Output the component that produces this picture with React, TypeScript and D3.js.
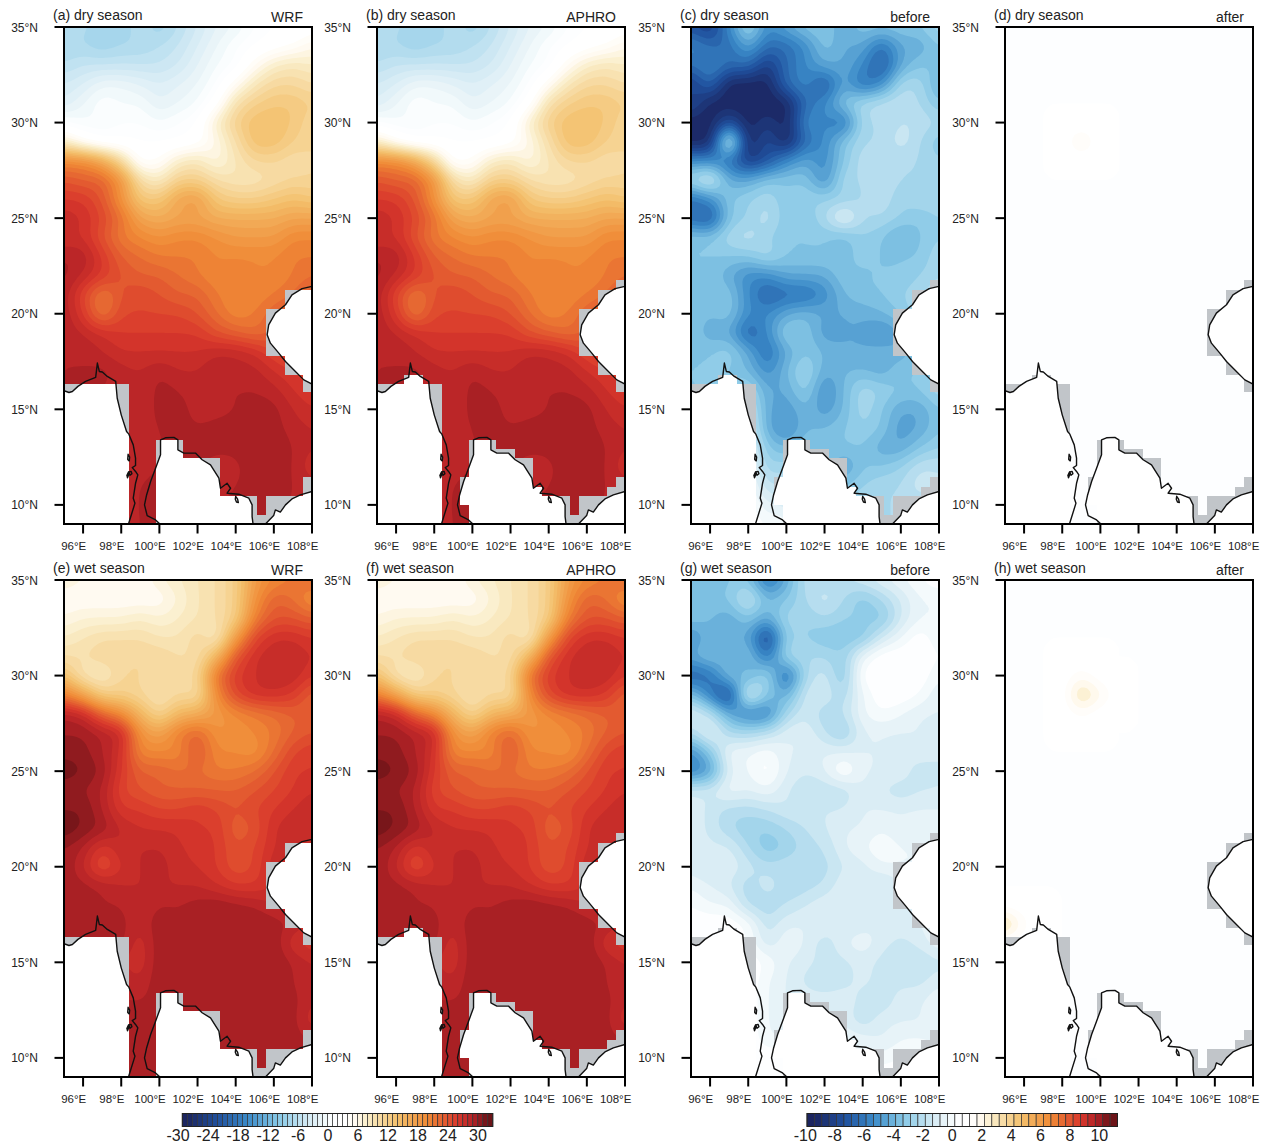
import React, { useMemo } from "react";
import * as d3 from "d3";

// grid nodes: 1 degree, rows run north to south
const lons = d3.range(95, 109);
const lats = d3.range(35, 8, -1);

const dryWrf = [
  [-8,-9,-9,-10,-8,-10,-8,-6,-4,-3,-1,0,0,1],
  [-9,-9,-10,-9,-9,-8,-7,-5,-3,-1,0,1,2,4],
  [-8,-7,-7,-7,-7,-7,-6,-4,-2,-1,3,6,7,6],
  [-6,-5,-3,-3,-4,-5,-4,-3,-1,3,7,9,9,8],
  [-5,-3,-1,-2,-2,-4,-3,-2,1,8,10,11,11,10],
  [-1,-2,-2,-1,-1,-2,-1,0,6,10,12,12,11,9],
  [6,2,0,0,0,0,0,1,4,8,12,12,10,9],
  [18,18,15,9,1,2,6,7,4,7,9,9,8,9],
  [22,21,21,17,8,6,10,10,8,7,7,8,9,9],
  [24,24,22,17,11,11,15,16,11,10,10,11,12,11],
  [26,25,23,20,15,14,15,15,14,14,14,14,15,15],
  [25,25,22,19,18,17,18,18,17,16,16,16,18,18],
  [27,27,24,21,20,19,19,19,18,18,18,18,19,19],
  [27.5,26,24,22,21,21,20,19,18,19,18,18,19,20],
  [27,23,19,22,23,22,21,21,19,18,18,19,20,22],
  [27,24,19,23,23,23,23,22,20,18,19,21,22,24],
  [27,26,25,24,24,24,24,24,22,21,20,21,23,24],
  [27,27,26,25,25,25,25,25,26,26,25,23,22,23],
  [27,27,27.5,26.5,26,27,26,26,27,26.5,26.5,25,24,23],
  [27,27,27,26.5,26,27.5,27,26.5,27,27,27,26.5,25,24],
  [27,27,27,26,26,27.5,27.5,26.5,26.5,27,27.5,27.5,26,25],
  [27,27,27,26.5,26.5,27,27.5,27,27.5,27.5,27.5,27.5,26.5,26],
  [27,27,27,26.5,26.5,27,27,28,27.5,27.5,28,28,27,26],
  [27,27,27,26.5,26.5,27,27,27,26,26.5,28,28,27,25],
  [27,27,27,26.5,27,27.5,27,27,27,27,27.5,27.5,27,26.5],
  [27,27,27,26.5,27,28,27,27,27,27,27,27,27,26.5],
  [27,27,27,26.5,27,27.5,27,27,27,27,27,27,27,26.5],
];

const wetWrf = [
  [5,4,4,3,3,5,6,7,8,10,16,18,19,21],
  [3,3,3,3,3,3,5,7,8,10,17,21,20,17],
  [4,5,5,5,6,5,6,7,8,10,19,22,22,21],
  [6,7,8,8,8,7,7,9,6,16,23,25,25,24],
  [8,8,9,9,9,9,8,8,13,22,25,26,26,25],
  [12,7,6,9,9,9,8,9,20,24,25,26,26,24],
  [19,15,10,10,9,7,9,8,18,23,25,25,24,21],
  [27,26,21,18,13,9,13,14,16,18,19,20,21,21],
  [28,28,27,26,17,15,19,21,17,17,18,19,21,22],
  [28.5,28.5,27,25,18,18,18,22,18,18,17,20,23,24],
  [30,29,28,24,21,21,20,20,19,19,20,22,24,24],
  [28,28,27,23,22,21,21,21,21,21,22,23,24,25],
  [29,29,27,24,24,23,23,24,23,22,23,24,25,26],
  [30,29,28,26,25,25,25,24,24,21,22,25,26,26],
  [28,27,24,26,26,26,25,25,24,22,23,25,26,26],
  [28,26,22,25,26,27,25,25,24,22,23,26,26,26],
  [27.5,27.5,27,26,26,26,26,26,25,24,24,25,26,26],
  [27.5,27.5,27,27,26,27,27,27.5,28,27.5,27,26,26,26],
  [27.5,27.5,28,27.5,26,28,27,28,28,28,28,27.5,27,26],
  [27.5,27.5,27.5,27.5,25,28,27.5,28,28,28,28,28,25,24],
  [27.5,27.5,27.5,26,25,28,27.5,27.5,28,28,28,28,27,26],
  [27,27,27,27,26,28,28,27.5,28,28,28,28,27,26],
  [27,27,27,27,27,27.5,27.5,28,28,28,28,28,27.5,26],
  [27,27,27,27.5,27.5,27.5,27.5,27.5,27.5,27.5,28,28,27.5,25],
  [27,27,27,27.5,27.5,28,27.5,27.5,27.5,27.5,28,28,27.5,27],
  [27,27,27,27.5,27.5,28,27.5,27.5,27.5,27.5,27.5,27.5,27.5,27],
  [27,27,27,27.5,27.5,28,27.5,27.5,27.5,27.5,27.5,27.5,27.5,27],
];

const dryBefore = [
  [-8,-9,-6,-3,-6,-5,-4,-4,-5,-4,-4,-4,-4,-3],
  [-6,-7,-7,-5,-7,-7,-6,-4,-5,-5,-7,-5,-5,-4],
  [-7,-6,-7,-7,-9,-7,-6,-5,-5,-6,-8,-5,-4,-4],
  [-9,-7,-10,-10,-10,-7,-6,-8,-5,-7,-6,-3,-3,-5],
  [-8,-10,-10,-10,-10,-10,-7,-6,-4,-3,-2.5,-2.5,-3,-4],
  [-10,-10,-8,-10,-9,-10,-6,-6,-7,-3,-3,-2.5,-2.5,-3],
  [-10,-10,-1,-10,-8,-10,-7,-6,-4,-3,-3,-2,-3,-4],
  [-6,-6,-7,-9,-8,-6,-5,-6,-4,-2.5,-3,-3,-3,-3.5],
  [-3,-1.5,-5,-5,-4,-4,-4,-6,-3,-3,-2.5,-3,-3,-3],
  [-7,-6,-4,-3.5,-3,-4,-3.5,-3.5,-3.5,-3,-2.5,-3.5,-3,-3],
  [-7,-8,-4,-3.5,-2.5,-4,-4,-3,-1,-3,-3,-3.5,-4,-3.5],
  [-4,-4,-3,-2.5,-3.5,-4,-4,-4,-4.5,-3.5,-4,-5,-4,-3.5],
  [-4,-4,-4,-4,-3,-4,-4,-4,-4,-4,-4,-4,-4,-3],
  [-4,-4,-5,-6,-6,-5,-5,-5,-4,-4,-4,-4,-3.5,-3],
  [-4,-4,-4,-6,-7.5,-7,-7,-6,-4.5,-4,-4,-3.5,-3,-2.5],
  [-4,-4.5,-4,-6,-6,-5,-4.5,-5,-5,-5,-4.5,-4,-3,-3],
  [-4,-5,-5,-7.5,-6,-3.5,-4,-5.5,-5,-5,-6,-5,-3,-3],
  [-4,-4,-3.5,-5,-7,-5,-4,-4.5,-5,-5,-4.5,-5,-4,-3],
  [-4,-4,-4,-4.5,-6,-4.5,-3,-5,-4.5,-4.5,-5,-4,-4,-3],
  [-4,-4,-4,-3,-5,-5,-3.5,-6,-4.5,-3,-3.5,-4,-4,-3],
  [-4,-4,-4,-2,-5,-5.5,-4.5,-5.5,-4.5,-3,-4,-5,-5,-4],
  [-4,-4,-4,-1.5,-5,-6,-4.5,-4.5,-4,-3.5,-4,-5.5,-5,-4],
  [-3,-3,-3,-1,-4,-4.5,-4,-4,-4,-4,-5,-5,-4,-3.5],
  [-1,-1,-1,-0.5,-3.5,-3,-4,-4,-5.5,-4,-4,-3.5,-2.5,-2.5],
  [-0.5,-0.5,-0.5,-0.5,-2.5,-2.5,-3.5,-4,-4,-3.5,-3,-3,-2,-2.5],
  [0,0,0,0,-1.5,-1.5,-3,-3.5,-3.5,-3,-3,-3,-3,-3],
  [0,0,0,0,-0.5,-0.5,-3,-3,-3,-3,-3,-3,-3,-3],
];

const wetBefore = [
  [-4,-4.5,-4,-4,-7,-5,-2.5,-3,-2.5,-2,-1.5,-1,-0.5,0],
  [-4,-4,-4,-2,-4.5,-4,-3,-2,-3,-4,-3,-2,-1,-1],
  [-4,-4.5,-5,-4,-5,-3,-3.5,-3,-3.5,-3.5,-4,-2,-1,-1],
  [-6,-4.5,-5,-5,-9,-3.5,-3.5,-4,-4,-4,-2,-1,0,-1],
  [-5,-4,-5,-4,-7,-3,-3,-3,-3.5,-1,0,0,0,-0.5],
  [-7.5,-7,-4,-5,-3,-7.5,-3,-2,-4,0,0,0,0,-1],
  [-4,-6.5,-9,-1,-4,-5,-2,-2,-3,-1,0,0,-0.5,-1.5],
  [-1.5,-2.5,-5,-6.5,-6.5,-3,-2,-3,-2.5,-1,-0.5,-1,-1.5,-1.5],
  [-3,-1,-3,-3,-2.5,-1.5,-1.5,-2.5,-3.5,-1.5,-1.5,-1.5,-1.5,-2],
  [-6,-4,-1,-1,-0.5,-1.5,-1.5,-1.5,-1.5,-1.5,-1.5,-2,-1.5,-2],
  [-6.5,-5.5,-1.5,-1,0,-1.5,-2,-1.5,0,-1.5,-1.5,-1.5,-2.5,-2],
  [-2,-2,-1,-1.5,-1,-2,-2.5,-2.5,-2.5,-1.5,-2,-2.5,-2,-2],
  [-1.5,-2.2,-2.8,-2.8,-2.5,-2,-2,-2,-2,-1.5,-1.5,-1.5,-1.5,-1.5],
  [-1.5,-2.2,-3,-3.5,-3.5,-3,-2.5,-2,-1.5,-1.5,-1,-1.5,-1,-1],
  [-1.8,-1.8,-1.8,-3,-4,-3.5,-2.8,-2.5,-1.5,-1,-0.5,-1,-1,-1],
  [-1.8,-2.2,-1.5,-2.2,-2.8,-2.5,-2.5,-2.8,-2,-1.8,-1,-1,-1,-1],
  [-1,-1.5,-2,-3,-2,-3,-2.8,-2.5,-1.5,-1.5,-2.5,-1.5,-1,-1],
  [-0.5,-1,-1,-2.8,-3,-2.5,-2,-1.5,-1.5,-1.5,-1.5,-1.5,-1.5,-1],
  [0,0,0,-0.5,-2.5,-1.5,-1.5,-1.5,-2,-1.8,-1.5,-1.8,-1.5,-1],
  [0,0,0,-0.5,-2,-1,-1.5,-2.5,-1.5,-1,-1.8,-2.2,-1.8,-1],
  [0,0,0,0,-0.5,-1.5,-1.8,-2.2,-2.2,-1.8,-2.2,-2.6,-2.6,-2.2],
  [0,0,0,0,-1,-1.5,-2.2,-2.6,-2.2,-1.8,-2.2,-2.2,-2.2,-1.6],
  [0,0,0,0,-1,-1.6,-1.6,-1.6,-1.6,-2.2,-2.6,-1.6,-1.6,-1],
  [0,0,0,0,-1,-1.6,-1.6,-1.6,-1.6,-2.6,-1.6,-1.6,-1.6,-1],
  [0,0,0,0,-1,-1,-1,-1,-1,-1.2,-1.6,-1,-1,-1.5],
  [0,0,0,0,0,0,0,-0.5,-0.8,-0.8,-0.8,-0.5,0,0],
  [0,0,0,0,0,0,0,0,0,0,0,0,0,0],
];

// "after" panels are zero except for a few faint spots: [lon, lat, value]
const dryAfterSpots = [[99, 29, 1.4]];
const wetAfterSpots = [[99, 29, 2.8], [100, 29, 1.2], [99, 30, 0.8], [99, 28, 0.6], [95, 17, 3], [96, 17, 0.6]];

const panelLetters = ["a", "b", "c", "d", "e", "f", "g", "h"];
const panelSeasons = ["dry", "dry", "dry", "dry", "wet", "wet", "wet", "wet"];
const panelSources = ["WRF", "APHRO", "before", "after", "WRF", "APHRO", "before", "after"];

const lonTicks = [96, 98, 100, 102, 104, 106, 108];
const latTicks = [35, 30, 25, 20, 15, 10];
const tempLabels = [-30, -24, -18, -12, -6, 0, 6, 12, 18, 24, 30];
const diffLabels = [-10, -8, -6, -4, -2, 0, 2, 4, 6, 8, 10];

const rampStops = [-1, -0.8, -0.6, -0.4, -0.2, -0.12, -0.05, 0, 0.05, 0.12, 0.2, 0.4, 0.6, 0.8, 0.9, 1];
const rampColors = ["#1c2560", "#1f4f9c", "#3a8ac8", "#86c8e6", "#d3eaf4", "#e8f4f8", "#fafdfe", "#ffffff", "#ffffff", "#fffaf0", "#faedc8", "#f3c06c", "#f08a36", "#d9382c", "#b52227", "#6c1418"];

const seaWest = [[95,15.97],[95.26,15.88],[95.44,15.93],[95.73,16.2],[96.13,16.46],[96.66,16.67],[96.75,17.42],[96.85,16.98],[97.01,16.95],[97.27,16.72],[97.71,16.46],[97.79,15.58],[98,14.71],[98.28,13.84],[98.4,13.7],[98.63,13.14],[98.75,12.44],[98.75,12.06],[98.58,11.95],[98.75,11.75],[98.87,11.57],[98.75,11.13],[98.63,10.35],[98.72,10.09],[98.38,9]];
const seaGulf = [[100.03,9],[99.8,9.21],[99.36,9.44],[99.22,10],[99.33,10.52],[99.54,11.22],[99.8,11.92],[100.06,12.62],[100.06,13.4],[100.32,13.51],[100.76,13.53],[100.97,13.4],[100.97,12.88],[101.28,12.71],[101.89,12.71],[102.24,12.36],[102.68,12.09],[103.12,11.4],[103.2,10.87],[103.55,11.13],[103.73,10.87],[103.55,10.61],[104.16,10.56],[104.69,10.35],[104.86,10],[104.86,9.39],[104.91,9]];
const seaSouth = [[105.56,9],[105.99,9.44],[106.08,9.74],[106.34,9.62],[106.61,10],[106.95,10.31],[107.39,10.52],[108,10.7]];
const seaTonkin = [[108,21.43],[107.48,21.31],[106.95,20.99],[106.61,20.47],[106.08,20.03],[105.73,19.42],[105.65,18.9],[105.82,18.46],[106.26,17.94],[106.61,17.5],[107.04,17.07],[107.57,16.54],[108,16.32]];
const islands = [
  [[98.36,12.65],[98.44,12.5],[98.42,12.3],[98.34,12.38]],
  [[98.3,11.55],[98.38,11.72],[98.4,11.6],[98.33,11.42]],
  [[98.4,11.72],[98.52,11.75],[98.56,11.63],[98.46,11.55]],
  [[104,10.45],[104.1,10.3],[104.14,10.12],[104.04,10.15],[103.98,10.3]],
];

const maskWrf = [[95,35],[108,35],[108,21.26],[106.57,21.26],[106.57,20.24],[105.61,20.24],[105.61,17.8],[106.57,17.8],[106.57,16.82],[107.53,16.82],[107.53,15.9],[108,15.9],[108,11.45],[107.53,11.45],[107.53,10.47],[105.61,10.47],[105.61,9.49],[105.12,9.49],[105.12,10.47],[103.2,10.47],[103.2,12.43],[101.25,12.43],[101.25,13.4],[99.83,13.4],[99.83,9],[98.4,9],[98.4,16.34],[95,16.34]];
const maskAphro = [[95,35],[108,35],[108,21.75],[107.53,21.75],[107.53,21.26],[106.57,21.26],[106.57,20.24],[105.61,20.24],[105.61,17.8],[106.57,17.8],[106.57,16.82],[107.53,16.82],[107.53,15.9],[108,15.9],[108,11.45],[107.53,11.45],[107.53,10.96],[107.04,10.96],[107.04,10.47],[105.61,10.47],[105.61,9.49],[105.12,9.49],[105.12,10.47],[103.66,10.47],[103.66,10.96],[103.17,10.96],[103.17,12.43],[102.21,12.43],[102.21,12.92],[101.25,12.92],[101.25,13.4],[99.83,13.4],[99.83,11.45],[99.33,11.45],[99.33,10],[99.83,10],[99.83,9],[98.4,9],[98.4,16.34],[97.41,16.34],[97.41,16.82],[96.41,16.82],[96.41,16.34],[95,16.34]];

const panelLeft = [64, 377, 691, 1005];
const panelTop = [27, 580];
const panelW = 248;
const panelH = 497;
const FONT = "'Liberation Sans', Arial, sans-serif";
const UP = 6; // cells per degree when contouring
const EPS = 1e-6; // keeps flat areas from sitting exactly on a contour level

const ramp = d3.scaleLinear<string>().domain(rampStops).range(rampColors).interpolate(d3.interpolateRgb).clamp(true);
const xScale = d3.scaleLinear().domain([95, 108]).range([0, panelW]);
const yScale = d3.scaleLinear().domain([35, 9]).range([0, panelH]);
const geoLine = d3.line().x((d: any) => xScale(d[0])).y((d: any) => yScale(d[1]));
// mask edges sit on whole pixels, an antialiased clip lets the stacked bands show through
const maskLine = d3.line().x((d: any) => Math.round(xScale(d[0]))).y((d: any) => Math.round(yScale(d[1])));

const spotGrid = (spots: number[][]) =>
  lats.map((lat) => lons.map((lon) => {
    const s = spots.find((p) => p[0] === lon && p[1] === lat);
    return s ? s[2] : 0;
  }));

// resample the 1 degree grid for contouring, then soften it a little
function resample(grid: number[][]) {
  const w = (lons.length - 1) * UP + 1;
  const h = (lats.length - 1) * UP + 1;
  const data = new Float64Array(w * h);
  for (let j = 0; j < h; j++) {
    const r = Math.min(Math.floor(j / UP), lats.length - 2);
    const fy = j / UP - r;
    for (let i = 0; i < w; i++) {
      const c = Math.min(Math.floor(i / UP), lons.length - 2);
      const fx = i / UP - c;
      data[j * w + i] =
        grid[r][c] * (1 - fx) * (1 - fy) + grid[r][c + 1] * fx * (1 - fy) +
        grid[r + 1][c] * (1 - fx) * fy + grid[r + 1][c + 1] * fx * fy;
    }
  }
  d3.blur2({ data, width: w, height: h }, 1.5);
  return { data, w, h };
}

function contourField(grid: number[][], levels: number[], step: number, span: number) {
  const { data, w, h } = resample(grid);
  const proj = d3.geoTransform({
    point(x: number, y: number) {
      (this as any).stream.point(xScale(95 + (x - 0.5) / UP), yScale(35 - (y - 0.5) / UP));
    },
  });
  const path = d3.geoPath(proj).digits(1);
  const low = d3.min(data as any) as number;
  const used = levels.filter((l) => l > low).map((l) => l + EPS);
  const gen = d3.contours().size([w, h]).thresholds(used);
  return {
    base: ramp((Math.floor(low / step) * step + step / 2) / span),
    items: gen(data as any).map((c: any) => ({
      d: path(c) as string,
      fill: ramp((c.value + step / 2) / span),
    })),
  };
}

const tempLevels = d3.range(-30, 31, 1);
const diffLevels = d3.range(-10, 10.5, 0.5);

function Colorbar({ left, labelZero, unit, levels, step, span, labels }: any) {
  const edges = [...levels, levels[levels.length - 1] + step];
  const band = d3.scaleBand<number>().domain(edges).range([left, left + 310.5]);
  const labelX = d3.scaleLinear().domain([0, 1]).range([labelZero, labelZero + unit]);
  return (
    <g>
      {edges.map((v: number) => (
        <rect key={v} x={band(v)} y={1113.5} width={band.bandwidth()} height={13}
          fill={ramp((v - step / 2) / span)} stroke="#333" strokeWidth={0.7} />
      ))}
      <rect x={left} y={1113.5} width={310.5} height={13} fill="none" stroke="#222" strokeWidth={1} />
      {labels.map((v: number) => (
        <text key={v} x={labelX(v)} y={1141} textAnchor="middle" fontSize={16} fill="#222">{v}</text>
      ))}
    </g>
  );
}

function Panel({ idx, field, mask }: any) {
  const left = panelLeft[idx % 4];
  const top = panelTop[Math.floor(idx / 4)];
  const clipId = `mask-${idx}`;
  const frameId = `frame-${idx}`;
  return (
    <g transform={`translate(${left},${top})`} fontFamily={FONT}>
      <defs>
        <clipPath id={frameId}><rect width={panelW} height={panelH} /></clipPath>
        <clipPath id={clipId}><path d={maskLine(mask as any) + "Z"} shapeRendering="crispEdges" /></clipPath>
      </defs>
      <g clipPath={`url(#${frameId})`}>
        <rect width={panelW} height={panelH} fill="#c1c5c9" />
        <g fill="#fff">
          <path d={geoLine([...seaWest, [95, 9]] as any) + "Z"} />
          <path d={geoLine(seaGulf as any) + "Z"} />
          <path d={geoLine([...seaSouth, [108, 9]] as any) + "Z"} />
          <path d={geoLine(seaTonkin as any) + "Z"} />
        </g>
        <g clipPath={`url(#${clipId})`}>
          <rect width={panelW} height={panelH} fill={field.base} />
          {field.items.map((p: any, i: number) => <path key={i} d={p.d} fill={p.fill} />)}
        </g>
        <g fill="none" stroke="#111" strokeWidth={1.4} strokeLinejoin="round">
          {[seaWest, seaGulf, seaSouth, seaTonkin].map((c, i) => (
            <path key={i} d={geoLine(c as any) as string} />
          ))}
          {islands.map((c, i) => (
            <path key={i} d={geoLine(c as any) + "Z"} fill={i === 1 ? "#111" : "none"} />
          ))}
        </g>
      </g>
      <rect width={panelW} height={panelH} fill="none" stroke="#000" strokeWidth={2} />
      {latTicks.map((v) => (
        <g key={v} transform={`translate(0,${yScale(v)})`}>
          <line x1={-9.5} x2={0} stroke="#000" strokeWidth={2} />
          <text x={-26} y={4.5} textAnchor="end" fontSize={12} fill="#222">{v}°N</text>
        </g>
      ))}
      {lonTicks.map((v) => (
        <g key={v} transform={`translate(${xScale(v)},${panelH})`}>
          <line y1={0} y2={9.5} stroke="#000" strokeWidth={2} />
          <text x={-9.4} y={26} textAnchor="middle" fontSize={11.5} fill="#222">{v}°E</text>
        </g>
      ))}
      <text x={-11} y={-7.5} fontSize={14} fill="#222">({panelLetters[idx]}) {panelSeasons[idx]} season</text>
      <text x={239} y={-5} textAnchor="end" fontSize={14} fill="#222">{panelSources[idx]}</text>
    </g>
  );
}

export default function App() {
  const fields = useMemo(() => {
    const temp = (g: number[][]) => contourField(g, tempLevels, 1, 30);
    const diff = (g: number[][]) => contourField(g, diffLevels, 0.5, 10);
    const dry = temp(dryWrf);
    const wet = temp(wetWrf);
    return [
      dry, dry, diff(dryBefore), diff(spotGrid(dryAfterSpots)),
      wet, wet, diff(wetBefore), diff(spotGrid(wetAfterSpots)),
    ];
  }, []);

  return (
    <svg width={1262} height={1146} style={{ position: "absolute", left: 0, top: 0, background: "#fff" }} fontFamily={FONT}>
      {fields.map((field, i) => (
        <Panel key={i} idx={i} field={field} mask={i === 0 || i === 4 ? maskWrf : maskAphro} />
      ))}
      <Colorbar left={182.3} labelZero={328} unit={5} levels={tempLevels} step={1} span={30} labels={tempLabels} />
      <Colorbar left={807} labelZero={952.3} unit={14.7} levels={diffLevels} step={0.5} span={10} labels={diffLabels} />
    </svg>
  );
}
